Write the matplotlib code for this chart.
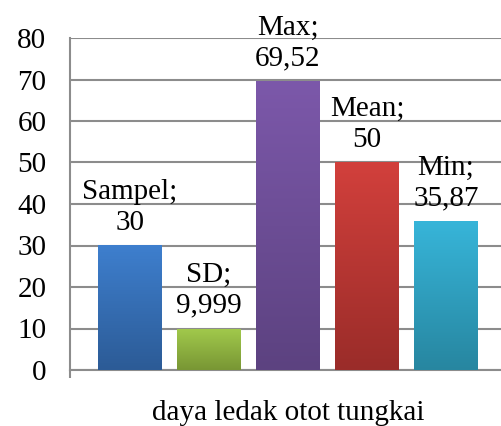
import matplotlib.pyplot as plt
import numpy as np
from matplotlib.colors import LinearSegmentedColormap

plt.rcParams['font.family'] = ['Liberation Serif', 'DejaVu Serif']

# --- data ---
names = ['Sampel', 'SD', 'Max', 'Mean', 'Min']
values = [30, 9.999, 69.52, 50, 35.87]
value_labels = ['30', '9,999', '69,52', '50', '35,87']
category = 'daya ledak otot tungkai'

# top / bottom colour of each bar's gradient
top_colors = ['#3e7fce', '#a2ca4c', '#7c58aa', '#d2403c', '#37b5d9']
bottom_colors = ['#2c5b96', '#789634', '#5c4280', '#9a2c29', '#2786a0']

fig = plt.figure(figsize=(5.02, 4.26), dpi=100)
ax = fig.add_axes([70 / 502, 56 / 426, 436 / 502, 332 / 426])

x = np.arange(len(values))
width = 64 / 79
bars = ax.bar(x, values, width=width, color='none', zorder=3)

# vertical gradient inside each bar
for bar, c_top, c_bot in zip(bars, top_colors, bottom_colors):
    cmap = LinearSegmentedColormap.from_list('g', [c_bot, c_top])
    x0, y0 = bar.get_x(), bar.get_y()
    x1, y1 = x0 + bar.get_width(), y0 + bar.get_height()
    grad = np.linspace(0, 1, 256).reshape(-1, 1)
    im = ax.imshow(grad, cmap=cmap, origin='lower', aspect='auto',
                   extent=(x0, x1, y0, y1), zorder=3)
    im.set_clip_path(bar)

ax.set_xlim(-60 / 79, 376 / 79)
ax.set_ylim(0, 80)
ax.set_yticks(range(0, 81, 10))
ax.grid(axis='y', color='#8c8c8c', linewidth=1.5, zorder=1)
ax.set_axisbelow(True)

for s in ['top', 'right']:
    ax.spines[s].set_visible(False)
for s in ['left', 'bottom']:
    ax.spines[s].set_color('#8c8c8c')
    ax.spines[s].set_linewidth(1.5)

ax.tick_params(axis='y', length=0, pad=17, labelsize=21)
ax.set_xticks([-60 / 79])
ax.set_xticklabels([''])
ax.tick_params(axis='x', length=6, width=1.5, color='#8c8c8c', direction='out')
ax.set_xlabel(category, fontsize=21, labelpad=12)

# data labels: "name;" over the value
for xi, v, n, lab in zip(x, values, names, value_labels):
    ax.annotate(f'{n};\n{lab}', (xi, v), xytext=(0, 7), textcoords='offset points',
                ha='center', va='bottom', fontsize=21, linespacing=1.25, zorder=4)

fig.savefig('out.png', dpi=100)
